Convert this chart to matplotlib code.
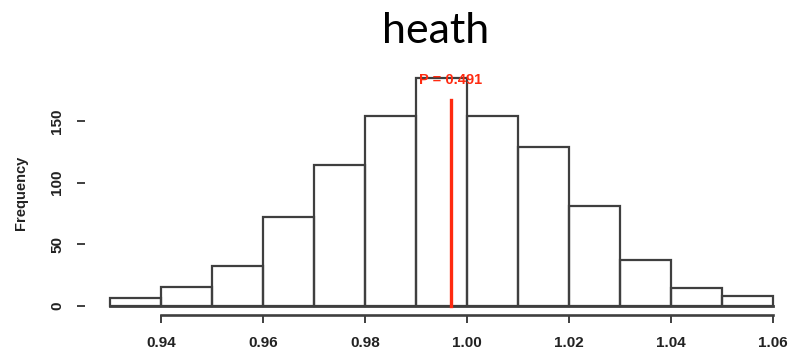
import numpy as np
import matplotlib
matplotlib.use("Agg")
from matplotlib import pyplot as plt

# permutation histogram for "heath"
bin_edges = [0.93, 0.94, 0.95, 0.96, 0.97, 0.98, 0.99, 1.00,
             1.01, 1.02, 1.03, 1.04, 1.05, 1.06]
counts = [6, 15, 32, 72, 114, 154, 185, 154, 129, 81, 37, 14, 8]
x_ticks = [0.94, 0.96, 0.98, 1.00, 1.02, 1.04, 1.06]
y_ticks = [0, 50, 100, 150]
obs_value = 0.9968
obs_top = 167
p_label = "P = 0.491"
title = "heath"

edge_col = "#3f3f3f"
lab_font = "Liberation Sans"

fig = plt.figure(figsize=(7.93, 3.55), dpi=100)
ax = fig.add_axes([85 / 793, 40 / 355, 700 / 793, 255 / 355])

edges = np.array(bin_edges)
widths = np.diff(edges)
ax.bar(edges[:-1], counts, width=widths, align="edge", fill=False,
       edgecolor=edge_col, linewidth=1.6)
# baseline under the bars
ax.plot([edges[0], edges[-1]], [0, 0], color=edge_col, linewidth=2.0)

# observed statistic
ax.plot([obs_value, obs_value], [0, obs_top], color="#ff2a10", linewidth=2.4)
ax.text(obs_value, obs_top + 16, p_label, color="#ff2a10", ha="center",
        va="center", fontsize=10.5, fontweight="bold", family=lab_font)

ax.set_xlim(0.925098, 1.062353)
ax.set_ylim(-7.55, 199.6)

for s in ["top", "right", "left"]:
    ax.spines[s].set_visible(False)
ax.spines["bottom"].set_bounds(x_ticks[0], x_ticks[-1])
ax.spines["bottom"].set_linewidth(1.9)
ax.spines["bottom"].set_color(edge_col)

ax.set_xticks(x_ticks)
ax.set_xticklabels(["%.2f" % v for v in x_ticks])
ax.set_yticks(y_ticks)
ax.set_yticklabels([str(v) for v in y_ticks], rotation=90, va="center")
ax.tick_params(axis="both", direction="out", length=6, width=1.4,
               color=edge_col, labelcolor="#222222", labelsize=11)
ax.tick_params(axis="x", pad=9)
ax.tick_params(axis="y", pad=9)
for lab in ax.get_xticklabels() + ax.get_yticklabels():
    lab.set_family(lab_font)
    lab.set_fontweight("bold")

fig.text(21 / 793, 1 - 193 / 355, "Frequency", rotation=90, ha="center",
         va="center", fontsize=10.5, fontweight="bold", family=lab_font,
         color="#222222")
fig.text(436 / 793, 1 - 43 / 355, title, ha="center", va="baseline",
         fontsize=31, family="Lato", color="black")

fig.savefig("out.png", dpi=100)
